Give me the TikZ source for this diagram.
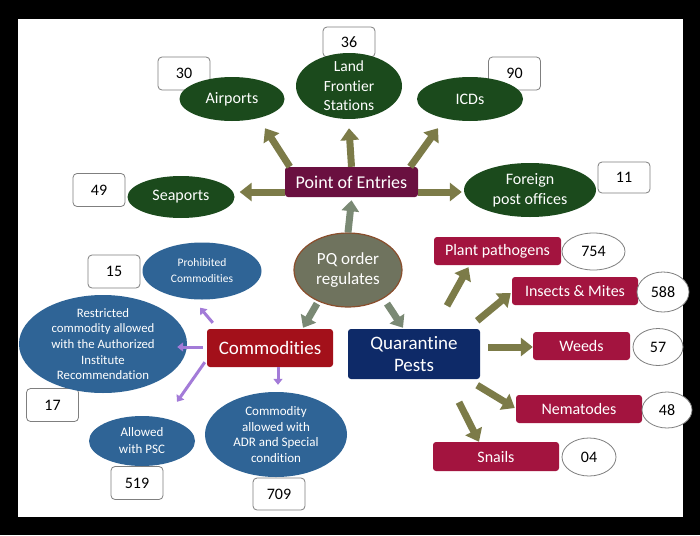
\documentclass[tikz,border=0pt]{standalone}
\usepackage{fontspec}
\setmainfont{Carlito}[RawFeature={-liga;-clig;-calt;-dlig}]
\usetikzlibrary{arrows.meta,shapes.geometric,calc}
\definecolor{dgreen}{HTML}{1B4A1C}
\definecolor{poecol}{HTML}{6A1040}
\definecolor{pqfill}{HTML}{6F735E}
\definecolor{pqborder}{HTML}{8A4E2C}
\definecolor{comcol}{HTML}{A3101A}
\definecolor{qpcol}{HTML}{0E2A68}
\definecolor{bluecol}{HTML}{2F6496}
\definecolor{pestcol}{HTML}{A3143F}
\definecolor{olivecol}{HTML}{7C7B48}
\definecolor{graycol}{HTML}{7A8974}
\definecolor{purplecol}{HTML}{A37BD8}
\definecolor{boxgray}{HTML}{7F7F7F}
\newcommand{\fs}[2]{\fontsize{#1}{#2}\selectfont}
\begin{document}
\begin{tikzpicture}[x=1pt,y=-1pt,
  numbox/.style={draw=boxgray,fill=white,rounded corners=4pt,line width=0.8pt,minimum width=52pt,minimum height=33pt,inner sep=0pt,font=\fs{16}{18}},
  numoval/.style={ellipse,draw=boxgray,fill=white,line width=0.8pt,inner sep=0pt,font=\fs{16}{18}},
  shp/.style={ellipse,inner sep=0pt},
  recbox/.style={rectangle,rounded corners=3pt,inner sep=0pt},
  txt/.style={text=white,align=center,inner sep=0pt},
  oarrow/.style={draw=olivecol,line width=7pt,-{Triangle[width=18pt,length=12pt]}},
  garrow/.style={draw=graycol,line width=7pt,-{Triangle[width=17pt,length=11pt]}},
  parrow/.style={draw=purplecol,line width=3pt,-{Triangle[width=9pt,length=6pt]}}
]
\fill[black] (0,0) rectangle (700,535);
\fill[white] (18,19) rectangle (683,517);
\useasboundingbox (0,0) rectangle (700,535);

% number boxes
\node[numbox] (b30) at (184,73.5) {30};
\node[numbox,minimum height=30pt] (b36) at (349,42) {36};
\node[numbox] (b90) at (514.5,73.5) {90};
\node[numbox] (b49) at (99,190) {49};
\node[numbox,minimum height=31pt] (b11) at (624,177.5) {11};
\node[numbox] (b15) at (114,271.5) {15};
\node[numbox] (b17) at (52.5,405) {17};
\node[numbox] (b519) at (137,483) {519};
\node[numbox,minimum height=32pt] (b709) at (279,494) {709};

% green ellipses
\node[shp,fill=dgreen,minimum width=105pt,minimum height=44pt] (air) at (232,99) {};
\node[txt,font=\fs{16}{19}] (airt) at (air) {Airports};
\node[shp,fill=dgreen,minimum width=106pt,minimum height=66pt] (land) at (349,86) {};
\node[txt,font=\fs{15.5}{19.5}] (landt) at (land) {Land\\Frontier\\Stations};
\node[shp,fill=dgreen,minimum width=106pt,minimum height=44pt] (icd) at (470,99) {};
\node[txt,font=\fs{16}{19}] (icdt) at (icd) {ICDs};
\node[shp,fill=dgreen,minimum width=107pt,minimum height=42pt] (sea) at (181,197) {};
\node[txt,font=\fs{16}{19}] (seat) at (sea) {Seaports};
\node[shp,fill=dgreen,minimum width=132pt,minimum height=54pt] (fpo) at (530,190) {};
\node[txt,font=\fs{16}{20}] (fpot) at (fpo) {Foreign\\post offices};

% point of entries
\node[recbox,fill=poecol,minimum width=133pt,minimum height=30pt] (poe) at (351.5,182) {};
\node[txt,font=\fs{18}{20}] (poet) at (poe) {Point of Entries};

% PQ order
\node[shp,fill=pqfill,draw=pqborder,line width=1.2pt,minimum width=108pt,minimum height=74pt] (pq) at (348,270) {};
\node[txt,font=\fs{17}{20}] (pqt) at (pq) {PQ order\\regulates};

% Commodities and Quarantine Pests
\node[recbox,fill=comcol,minimum width=126pt,minimum height=38pt] (com) at (270,348) {};
\node[txt,font=\fs{19}{21}] (comt) at (com) {Commodities};
\node[recbox,fill=qpcol,minimum width=132pt,minimum height=50pt] (qp) at (414,354) {};
\node[txt,font=\fs{19}{22}] (qpt) at (qp) {Quarantine\\Pests};

% blue ellipses
\node[shp,fill=bluecol,minimum width=119pt,minimum height=57pt] (pro) at (202,271) {};
\node[txt,font=\fs{11.5}{16}] (prot) at (pro) {Prohibited\\Commodities};
\node[shp,fill=bluecol,minimum width=168pt,minimum height=98pt] (res) at (103,344) {};
\node[txt,font=\fs{12.8}{15.6}] (rest) at (res) {Restricted\\commodity allowed\\with the Authorized\\Institute\\Recommendation};
\node[shp,fill=bluecol,minimum width=106pt,minimum height=50pt] (psc) at (142,441) {};
\node[txt,font=\fs{13}{17}] (psct) at (psc) {Allowed\\with PSC};
\node[shp,fill=bluecol,minimum width=142pt,minimum height=85pt] (adr) at (276,434.5) {};
\node[txt,font=\fs{13}{15.6}] (adrt) at (adr) {Commodity\\allowed with\\ADR and Special\\condition};

% pest boxes
\node[recbox,fill=pestcol,minimum width=127pt,minimum height=28pt] (pp) at (497.5,251) {};
\node[txt,font=\fs{16}{18}] (ppt) at (pp) {Plant pathogens};
\node[recbox,fill=pestcol,minimum width=126pt,minimum height=28pt] (ins) at (575,291) {};
\node[txt,font=\fs{16}{18}] (inst) at (ins) {Insects \& Mites};
\node[recbox,fill=pestcol,minimum width=97pt,minimum height=28pt] (wee) at (581.5,346) {};
\node[txt,font=\fs{16}{18}] (weet) at (wee) {Weeds};
\node[recbox,fill=pestcol,minimum width=126pt,minimum height=28pt] (nem) at (579,409) {};
\node[txt,font=\fs{16}{18}] (nemt) at (nem) {Nematodes};
\node[recbox,fill=pestcol,minimum width=126pt,minimum height=29pt] (sna) at (496,456.5) {};
\node[txt,font=\fs{16}{18}] (snat) at (sna) {Snails};

% number ovals
\node[numoval,minimum width=63pt,minimum height=37pt] (o754) at (593.5,251.5) {754};
\node[numoval,minimum width=52pt,minimum height=40pt] (o588) at (663,292) {588};
\node[numoval,minimum width=50pt,minimum height=37pt] (o57) at (658,347) {57};
\node[numoval,minimum width=50pt,minimum height=36pt] (o48) at (667,410) {48};
\node[numoval,minimum width=54pt,minimum height=38pt] (o04) at (589,457) {04};

% arrows from point of entries
\draw[oarrow] ($(poe.north west)+(5,0)$) -- ($(air.south)+(33,7)$);
\draw[oarrow] (poe.north) -- ($(land.south)+(0,9)$);
\draw[oarrow] ($(poe.north east)+(-8,0)$) -- ($(icd.south)+(-32,7)$);
\draw[oarrow] ($(poe.west)+(0,10)$) -- ($(sea.east)+(5,-5)$);
\draw[oarrow] ($(poe.east)+(0,10)$) -- ($(fpo.west)+(-2,2)$);

% arrows from PQ
\draw[garrow] (pq.north) -- ($(poe.south)+(0,3)$);
\draw[garrow] ($(pq.south)+(-31,-4)$) -- ($(com.north)+(33,-1)$);
\draw[garrow] ($(pq.south)+(39,-4)$) -- ($(qp.north)+(-11,-1)$);

% purple arrows
\draw[parrow] ($(com.north west)+(6,-6)$) -- ($(pro.south)+(-2,8)$);
\draw[parrow] ($(com.west)+(-4,-1)$) -- ($(res.east)+(-10,3)$);
\draw[parrow] ($(com.south west)+(-2,-5)$) -- ($(psc.north)+(35,-14)$);
\draw[parrow] ($(com.south)+(8,0)$) -- ($(adr.north)+(2,-7)$);

% pest arrows
\draw[oarrow] ($(qp.north)+(33,-23)$) -- ($(pp.south)+(-29,2)$);
\draw[oarrow] ($(qp.north east)+(-3,-8)$) -- ($(ins.west)+(-1,2)$);
\draw[oarrow] ($(qp.east)+(8,-7)$) -- ($(wee.west)+(0,1)$);
\draw[oarrow] ($(qp.south east)+(-3,6)$) -- ($(nem.west)+(-1,-1)$);
\draw[oarrow] ($(qp.south)+(45,23)$) -- ($(sna.north)+(-17,0)$);
\end{tikzpicture}
\end{document}
